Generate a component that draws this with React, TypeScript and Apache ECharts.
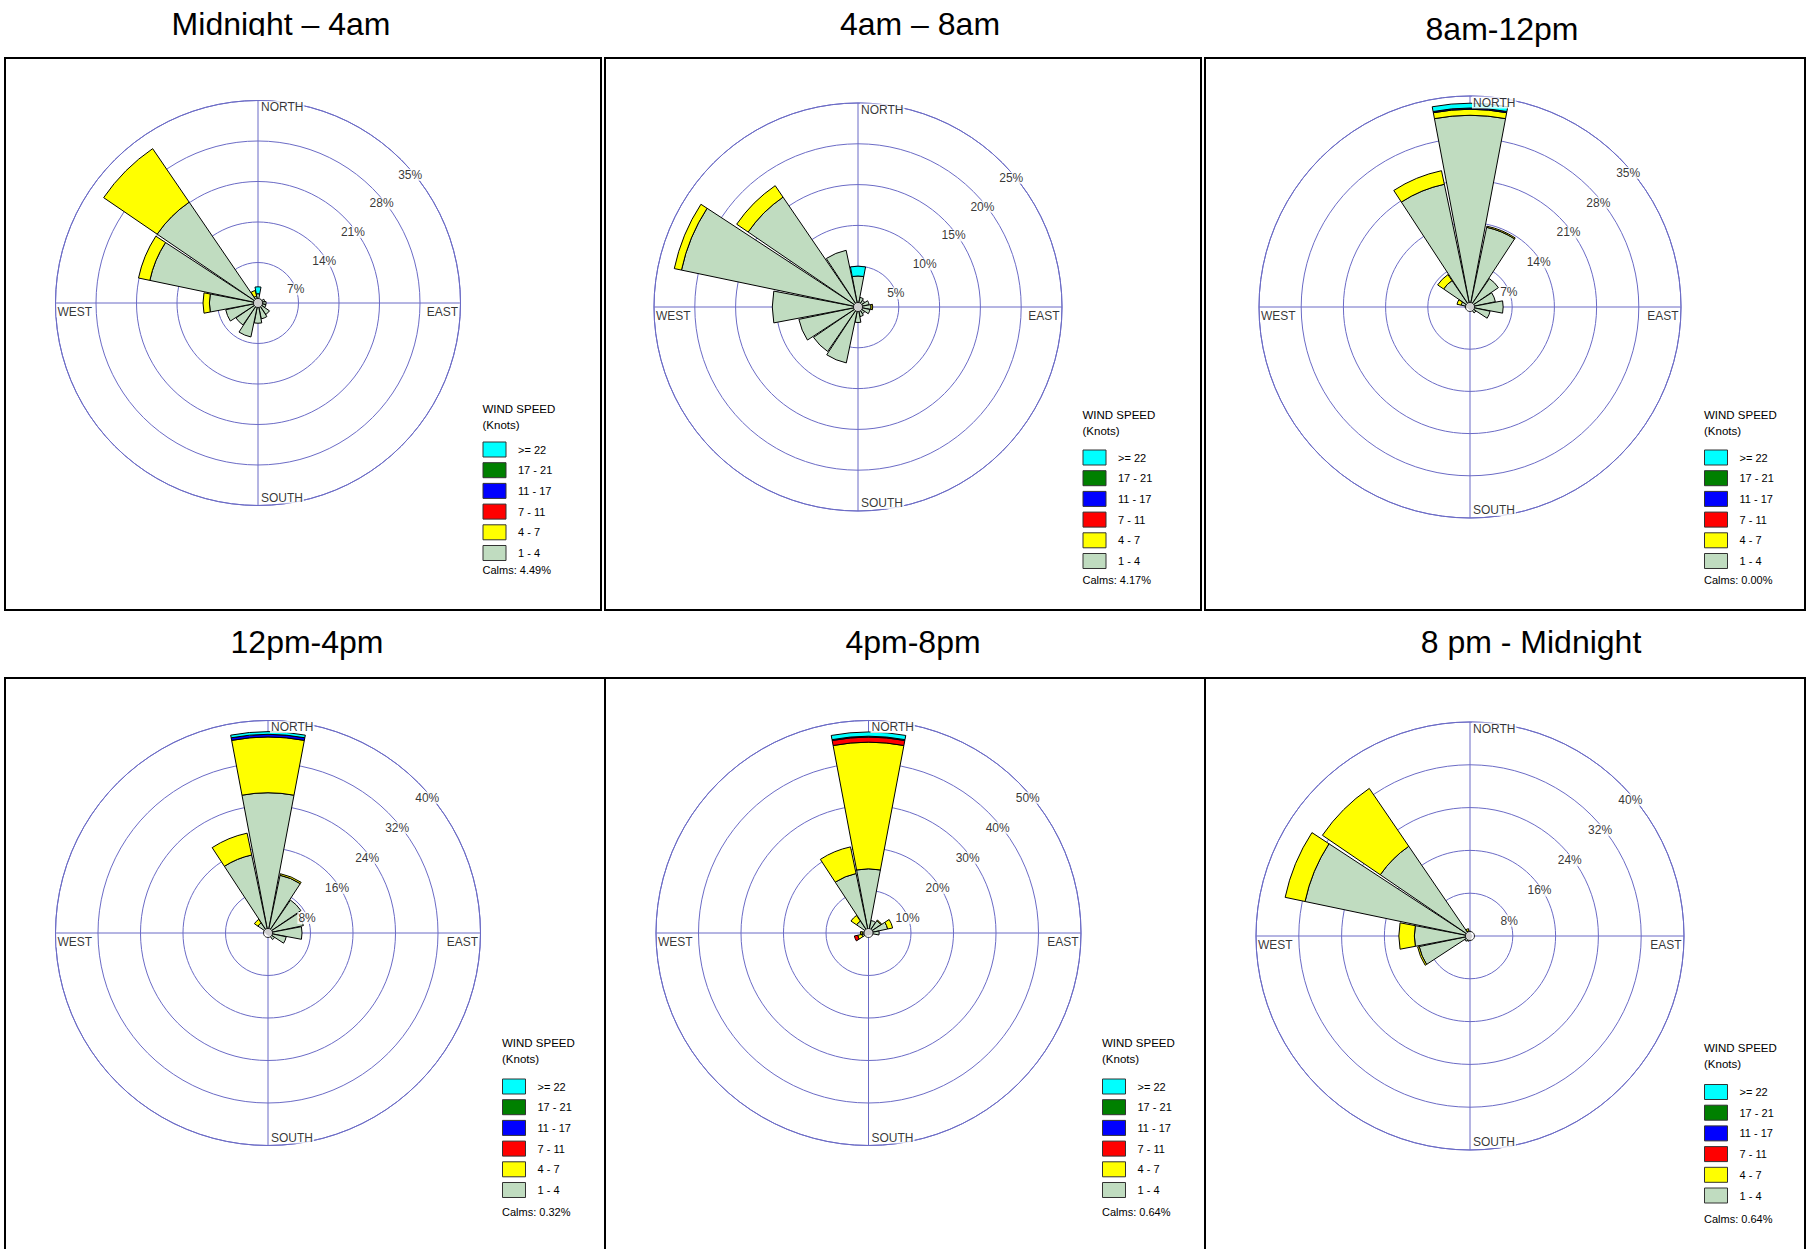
import { useEffect, useRef } from "react";
import * as echarts from "echarts";

// ---------- DATA ----------
const DIRECTIONS = ["N", "NNE", "NE", "ENE", "E", "ESE", "SE", "SSE", "S", "SSW", "SW", "WSW", "W", "WNW", "NW", "NNW"];
const SPEED_CLASSES = ["1 - 4", "4 - 7", "7 - 11", "11 - 17", "17 - 21", ">= 22"];
const SPEED_COLORS = ["#c0dcc0", "#ffff00", "#ff0000", "#0000ff", "#008000", "#00ffff"];
const LEGEND_ORDER = [">= 22", "17 - 21", "11 - 17", "7 - 11", "4 - 7", "1 - 4"];

const TITLES = ["Midnight – 4am", "4am – 8am", "8am-12pm", "12pm-4pm", "4pm-8pm", "8 pm - Midnight"];
const CALMS = ["4.49%", "4.17%", "0.00%", "0.32%", "0.64%", "0.64%"];

const P1_TICKS = [7, 14, 21, 28, 35];
const P2_TICKS = [5, 10, 15, 20, 25];
const P3_TICKS = [7, 14, 21, 28, 35];
const P4_TICKS = [8, 16, 24, 32, 40];
const P5_TICKS = [10, 20, 30, 40, 50];
const P6_TICKS = [8, 16, 24, 32, 40];

// Panel 1: Midnight – 4am  (order N, NNE, NE, ... NNW)
const p1_1to4 = [1.6, 0.6, 0.8, 1.2, 1.4, 1.4, 2.4, 2.8, 3.5, 6.0, 4.6, 5.7, 8.4, 19.1, 21.1, 1.2];
const p1_4to7 = [0, 0, 0, 0, 0, 0, 0, 0, 0, 0, 0, 0, 1.1, 2.0, 11.2, 1.0];
const p1_7to11 = [0, 0, 0, 0, 0, 0, 0, 0, 0, 0, 0, 0, 0, 0, 0, 0];
const p1_11to17 = [0, 0, 0, 0, 0, 0, 0, 0, 0, 0, 0, 0, 0, 0, 0, 0];
const p1_17to21 = [0, 0, 0, 0, 0, 0, 0, 0, 0, 0, 0, 0, 0, 0, 0, 0];
const p1_22up = [1.2, 0, 0, 0, 0, 0, 0, 0, 0, 0, 0, 0, 0, 0, 0, 0];

// Panel 2: 4am – 8am
const p2_1to4 = [3.8, 1.2, 1.0, 1.4, 1.6, 1.5, 1.0, 1.2, 1.9, 7.0, 6.6, 7.4, 10.5, 22.1, 16.3, 7.1];
const p2_4to7 = [0, 0, 0, 0, 0.2, 0, 0, 0, 0, 0, 0, 0, 0, 0.9, 1.7, 0];
const p2_7to11 = [0, 0, 0, 0, 0, 0, 0, 0, 0, 0, 0, 0, 0, 0, 0, 0];
const p2_11to17 = [0, 0, 0, 0, 0, 0, 0, 0, 0, 0, 0, 0, 0, 0, 0, 0];
const p2_17to21 = [0, 0, 0, 0, 0, 0, 0, 0, 0, 0, 0, 0, 0, 0, 0, 0];
const p2_22up = [1.2, 0, 0, 0, 0, 0, 0, 0, 0, 0, 0, 0, 0, 0, 0, 0];

// Panel 3: 8am-12pm
const p3_1to4 = [31.8, 13.5, 5.7, 4.3, 5.5, 3.4, 1.2, 0.5, 0.4, 0.3, 0.3, 0.3, 0.8, 1.5, 5.3, 20.8];
const p3_4to7 = [1.0, 0.2, 0, 0, 0, 0, 0, 0, 0, 0, 0, 0, 0, 0.7, 1.2, 2.3];
const p3_7to11 = [0, 0, 0, 0, 0, 0, 0, 0, 0, 0, 0, 0, 0, 0, 0, 0];
const p3_11to17 = [0.2, 0, 0, 0, 0, 0, 0, 0, 0, 0, 0, 0, 0, 0, 0, 0];
const p3_17to21 = [0, 0, 0, 0, 0, 0, 0, 0, 0, 0, 0, 0, 0, 0, 0, 0];
const p3_22up = [0.8, 0, 0, 0, 0, 0, 0, 0, 0, 0, 0, 0, 0, 0, 0, 0];

// Panel 4: 12pm-4pm
const p4_1to4 = [26.4, 11.1, 7.5, 6.8, 6.4, 3.5, 1.5, 0.5, 0.3, 0.3, 0.3, 0.3, 0.4, 0.8, 2.3, 15.0];
const p4_4to7 = [10.5, 0.3, 0, 0, 0, 0, 0, 0, 0, 0, 0, 0, 0, 0, 0.8, 4.2];
const p4_7to11 = [0, 0, 0, 0, 0, 0, 0, 0, 0, 0, 0, 0, 0, 0, 0, 0];
const p4_11to17 = [0.5, 0, 0, 0, 0, 0, 0, 0, 0, 0, 0, 0, 0, 0, 0, 0];
const p4_17to21 = [0, 0, 0, 0, 0, 0, 0, 0, 0, 0, 0, 0, 0, 0, 0, 0];
const p4_22up = [0.5, 0, 0, 0, 0, 0, 0, 0, 0, 0, 0, 0, 0, 0, 0, 0];

// Panel 5: 4pm-8pm
const p5_1to4 = [15.1, 3.0, 3.5, 4.6, 2.5, 1.0, 0.5, 0.3, 0.4, 0.5, 0.8, 1.6, 1.5, 1.0, 3.4, 14.3];
const p5_4to7 = [29.8, 0, 0.2, 1.2, 0, 0, 0, 0, 0, 0, 0, 1.0, 0.4, 0, 1.6, 6.4];
const p5_7to11 = [1.2, 0, 0, 0, 0, 0, 0, 0, 0, 0, 0, 0.8, 0, 0, 0, 0];
const p5_11to17 = [0.2, 0, 0, 0, 0, 0, 0, 0, 0, 0, 0, 0, 0, 0, 0, 0];
const p5_17to21 = [0, 0, 0, 0, 0, 0, 0, 0, 0, 0, 0, 0, 0, 0, 0, 0];
const p5_22up = [1.0, 0, 0, 0, 0, 0, 0, 0, 0, 0, 0, 0, 0, 0, 0, 0];

// Panel 6: 8 pm - Midnight
const p6_1to4 = [0.5, 0.3, 0.3, 0.3, 0.3, 0.3, 0.3, 0.4, 0.8, 1.0, 1.2, 9.7, 10.4, 31.5, 20.3, 1.0];
const p6_4to7 = [0, 0, 0, 0, 0, 0, 0, 0, 0, 0, 0, 0.3, 2.9, 3.8, 13.1, 0.4];
const p6_7to11 = [0, 0, 0, 0, 0, 0, 0, 0, 0, 0, 0, 0, 0, 0, 0, 0];
const p6_11to17 = [0, 0, 0, 0, 0, 0, 0, 0, 0, 0, 0, 0, 0, 0, 0, 0];
const p6_17to21 = [0, 0, 0, 0, 0, 0, 0, 0, 0, 0, 0, 0, 0, 0, 0, 0];
const p6_22up = [0.4, 0, 0, 0, 0, 0, 0, 0, 0, 0, 0, 0, 0, 0, 0, 0];

const PANEL_DATA = [
  [p1_1to4, p1_4to7, p1_7to11, p1_11to17, p1_17to21, p1_22up],
  [p2_1to4, p2_4to7, p2_7to11, p2_11to17, p2_17to21, p2_22up],
  [p3_1to4, p3_4to7, p3_7to11, p3_11to17, p3_17to21, p3_22up],
  [p4_1to4, p4_4to7, p4_7to11, p4_11to17, p4_17to21, p4_22up],
  [p5_1to4, p5_4to7, p5_7to11, p5_11to17, p5_17to21, p5_22up],
  [p6_1to4, p6_4to7, p6_7to11, p6_11to17, p6_17to21, p6_22up],
];
const PANEL_TICKS = [P1_TICKS, P2_TICKS, P3_TICKS, P4_TICKS, P5_TICKS, P6_TICKS];

// ---------- LAYOUT ----------
const CENTERS = [[258, 303], [858, 307], [1470, 307], [268, 933], [868.5, 933], [1470, 936]];
const RADII = [202.5, 204, 211, 212.5, 212.5, 214];
const TITLE_XY = [[281, 23.8], [920, 23.8], [1502, 29.3], [307, 641.5], [913, 641.5], [1531, 641.5]];
const LEGEND_X = [482.5, 1082.5, 1704, 502, 1102, 1704];
const WS_Y = [409, 415, 415, 1043, 1043, 1048];
const SWATCH_TOP = [441.5, 449.5, 449.5, 1078.5, 1078.5, 1084];
const CALMS_Y = [570, 580, 580, 1212, 1212, 1219];

const FONT = '"Liberation Sans", Arial, Helvetica, sans-serif';
const GRID = "#6b6bc6";

function buildOption() {
  const polar: any[] = [];
  const angleAxis: any[] = [];
  const radiusAxis: any[] = [];
  const series: any[] = [];
  const legend: any[] = [];
  const graphic: any[] = [];

  for (let i = 0; i < 6; i++) {
    const ticks = PANEL_TICKS[i];
    const M = ticks[ticks.length - 1];
    const step = ticks[0];
    polar.push({ center: CENTERS[i], radius: RADII[i] });
    angleAxis.push({
      polarIndex: i,
      type: "category",
      data: DIRECTIONS,
      startAngle: 101.25,
      clockwise: true,
      boundaryGap: true,
      axisLine: { show: true, lineStyle: { color: GRID, width: 1 } },
      axisTick: { show: false },
      axisLabel: { show: false },
      splitLine: { show: false },
      silent: true,
    });
    radiusAxis.push({
      polarIndex: i,
      type: "value",
      min: 0,
      max: M,
      interval: step,
      axisLine: { show: false },
      axisTick: { show: false },
      axisLabel: { show: false },
      splitLine: { show: true, lineStyle: { color: GRID, width: 1 } },
      silent: true,
    });

    // compass cross
    series.push({
      type: "line", coordinateSystem: "polar", polarIndex: i,
      data: [[M, "N"], [M, "S"]], symbol: "none",
      lineStyle: { color: GRID, width: 1 }, z: 1, silent: true,
    });
    series.push({
      type: "line", coordinateSystem: "polar", polarIndex: i,
      data: [[M, "E"], [M, "W"]], symbol: "none",
      lineStyle: { color: GRID, width: 1 }, z: 1, silent: true,
    });

    // stacked wind bars
    PANEL_DATA[i].forEach((arr, k) => {
      series.push({
        type: "bar",
        coordinateSystem: "polar",
        polarIndex: i,
        name: SPEED_CLASSES[k],
        stack: "rose" + i,
        data: arr.map((v) => (v > 0 ? v : null)),
        barCategoryGap: "5%",
        itemStyle: { color: SPEED_COLORS[k], borderColor: "#000", borderWidth: 1 },
        z: 2,
        silent: true,
      });
    });

    // ring percentage labels (along NE)
    series.push({
      type: "scatter", coordinateSystem: "polar", polarIndex: i,
      symbolSize: 1, itemStyle: { color: "transparent" },
      data: ticks.map((v) => ({ value: [v, "NE"], name: v + "%" })),
      label: {
        show: true, position: "inside", offset: [9, 15], formatter: "{b}",
        color: "#000", fontSize: 12, fontFamily: FONT, backgroundColor: "#fff", padding: [0, 1],
      },
      z: 10, silent: true,
    });

    // compass labels
    const lab = { show: true, formatter: "{b}", color: "#000", fontSize: 12, fontFamily: FONT, backgroundColor: "#fff", padding: [0, 1] };
    series.push({
      type: "scatter", coordinateSystem: "polar", polarIndex: i,
      symbolSize: 1, itemStyle: { color: "transparent" },
      label: lab,
      data: [
        { value: [M, "N"], name: "NORTH", label: { position: [2.5, 1], align: "left", verticalAlign: "top" } },
        { value: [M, "S"], name: "SOUTH", label: { position: [2.5, -1.5], align: "left", verticalAlign: "bottom" } },
        { value: [M, "W"], name: "WEST", label: { position: [1.5, 3], align: "left", verticalAlign: "top" } },
        { value: [M, "E"], name: "EAST", label: { position: [-1, 3], align: "right", verticalAlign: "top" } },
      ],
      z: 10, silent: true,
    });

    // calm circle
    series.push({
      type: "scatter", coordinateSystem: "polar", polarIndex: i,
      symbol: "circle", symbolSize: 9,
      itemStyle: { color: "#fff", borderColor: "#000", borderWidth: 1 },
      data: [[0, "N"]], z: 11, silent: true,
    });

    legend.push({
      left: LEGEND_X[i],
      top: SWATCH_TOP[i],
      orient: "vertical",
      padding: 0,
      itemWidth: 23,
      itemHeight: 15,
      itemGap: 4.7,
      icon: "rect",
      selectedMode: false,
      data: LEGEND_ORDER,
      itemStyle: { borderColor: "#333", borderWidth: 1 },
      textStyle: { fontSize: 11, fontFamily: FONT, color: "#000", padding: [0, 0, 0, 7] },
    });

    // titles
    graphic.push({
      type: "text", x: TITLE_XY[i][0], y: TITLE_XY[i][1], z: 100,
      style: { text: TITLES[i], font: `32px ${FONT}`, fill: "#000", textAlign: "center", textVerticalAlign: "middle" },
    });
    // legend heading and calms
    graphic.push({
      type: "text", x: LEGEND_X[i], y: WS_Y[i], z: 100,
      style: { text: "WIND SPEED", font: `11.5px ${FONT}`, fill: "#000", textAlign: "left", textVerticalAlign: "middle" },
    });
    graphic.push({
      type: "text", x: LEGEND_X[i], y: WS_Y[i] + 16, z: 100,
      style: { text: "(Knots)", font: `11.5px ${FONT}`, fill: "#000", textAlign: "left", textVerticalAlign: "middle" },
    });
    graphic.push({
      type: "text", x: LEGEND_X[i], y: CALMS_Y[i], z: 100,
      style: { text: "Calms: " + CALMS[i], font: `11px ${FONT}`, fill: "#000", textAlign: "left", textVerticalAlign: "middle" },
    });
  }

  // white band that trims the first two titles at their baseline
  graphic.push({ type: "rect", z: 101, shape: { x: 0, y: 36, width: 1200, height: 20 }, style: { fill: "#fff" } });

  // panel frames
  const frame = { fill: "none", stroke: "#000", lineWidth: 2 };
  graphic.push({ type: "rect", z: 102, shape: { x: 5, y: 58, width: 596, height: 552 }, style: frame });
  graphic.push({ type: "rect", z: 102, shape: { x: 605, y: 58, width: 596, height: 552 }, style: frame });
  graphic.push({ type: "rect", z: 102, shape: { x: 1205, y: 58, width: 600, height: 552 }, style: frame });
  graphic.push({ type: "rect", z: 102, shape: { x: 5, y: 678, width: 1800, height: 700 }, style: frame });
  graphic.push({ type: "line", z: 102, shape: { x1: 605, y1: 678, x2: 605, y2: 1260 }, style: { stroke: "#000", lineWidth: 2 } });
  graphic.push({ type: "line", z: 102, shape: { x1: 1205, y1: 678, x2: 1205, y2: 1260 }, style: { stroke: "#000", lineWidth: 2 } });

  return {
    animation: false,
    backgroundColor: "#fff",
    textStyle: { fontFamily: FONT },
    polar,
    angleAxis,
    radiusAxis,
    legend,
    series,
    graphic,
  };
}

export default function App() {
  const ref = useRef<HTMLDivElement>(null);
  useEffect(() => {
    document.body.style.margin = "0";
    document.body.style.overflow = "hidden";
    if (!ref.current) return;
    const chart = echarts.init(ref.current, undefined, { renderer: "svg" });
    chart.setOption(buildOption() as any);
    return () => chart.dispose();
  }, []);
  return <div ref={ref} style={{ width: 1806, height: 1249 }} />;
}
